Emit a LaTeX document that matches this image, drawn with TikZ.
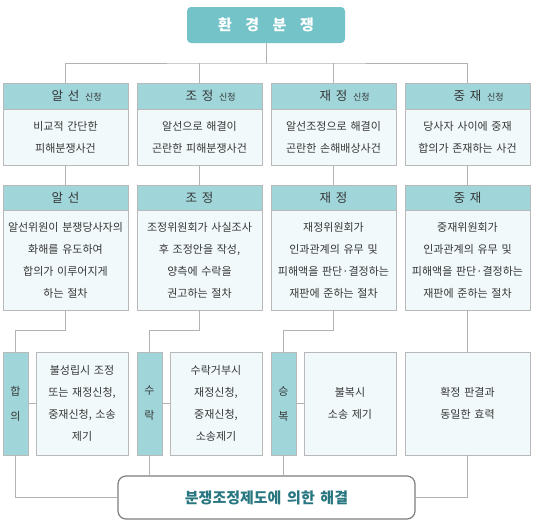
\documentclass[tikz,border=0pt]{standalone}
\usepackage{fontspec}
\setmainfont{Noto Sans CJK KR}
\usetikzlibrary{positioning}
\definecolor{TitleTeal}{RGB}{115,195,200}
\definecolor{HeadTeal}{RGB}{160,214,218}
\definecolor{BodyTint}{RGB}{241,249,250}
\definecolor{BoxLine}{RGB}{185,185,185}
\definecolor{LinkGray}{RGB}{178,178,178}
\definecolor{EndTeal}{RGB}{40,118,128}
\definecolor{EndLine}{RGB}{125,125,125}
\definecolor{InkGray}{RGB}{55,55,55}
\newcommand{\sub}{\rlap{\hspace{0.45em}\fontsize{9}{10}\selectfont 신청}}

\begin{document}
\begin{tikzpicture}[x=1pt, y=-1pt,
 title/.style={fill=TitleTeal, rounded corners=4pt, minimum width=158pt, minimum height=36pt, inner sep=0pt, text=white, font=\fontsize{15}{17}\selectfont\bfseries},
 hd/.style={draw=BoxLine, fill=HeadTeal, minimum width=125pt, minimum height=26pt, inner sep=0pt, outer sep=0pt, text=InkGray, font=\fontsize{12.5}{14}\selectfont},
 bd/.style={draw=BoxLine, fill=BodyTint, text width=125pt, align=center, minimum height=56pt, inner sep=0pt, outer sep=0pt, text=InkGray, font=\fontsize{11}{22}\selectfont},
 tag/.style={draw=BoxLine, fill=HeadTeal, minimum width=25pt, minimum height=103pt, inner sep=0pt, outer sep=0pt, align=center, text=InkGray, font=\fontsize{11}{25}\selectfont},
 note/.style={bd, text width=92pt, minimum height=103pt},
 fin/.style={draw=EndLine, line width=1.2pt, fill=white, rounded corners=8pt, minimum width=297pt, minimum height=43pt, inner sep=0pt, text=EndTeal, font=\fontsize{15}{17}\selectfont\bfseries},
 link/.style={draw=LinkGray, line width=0.8pt},
 node distance=20pt and 9pt
]
\useasboundingbox (0,0) rectangle (538,528);

% 제목
\node[title] (env) at (266,25) {환\hspace{0.9em}경\hspace{0.9em}분\hspace{0.9em}쟁};

% 신청
\node[hd] (ash) at (65.5,96) {알\hspace{0.4em}선\sub};
\node[hd, right=of ash] (jsh) {조\hspace{0.4em}정\sub};
\node[hd, right=of jsh] (jjh) {재\hspace{0.4em}정\sub};
\node[hd, right=of jjh] (jch) {중\hspace{0.4em}재\sub};
\node[bd, below=0pt of ash] (asb) {비교적 간단한\\피해분쟁사건};
\node[bd, below=0pt of jsh] (jsb) {알선으로 해결이\\곤란한 피해분쟁사건};
\node[bd, below=0pt of jjh] (jjb) {알선조정으로 해결이\\곤란한 손해배상사건};
\node[bd, below=0pt of jch] (jcb) {당사자 사이에 중재\\합의가 존재하는 사건};

% 절차
\node[hd, minimum height=25pt, below=of asb] (ah) {알\hspace{0.4em}선};
\node[hd, minimum height=25pt, below=of jsb] (sh) {조\hspace{0.4em}정};
\node[hd, minimum height=25pt, below=of jjb] (rh) {재\hspace{0.4em}정};
\node[hd, minimum height=25pt, below=of jcb] (ch) {중\hspace{0.4em}재};
\node[bd, minimum height=100pt, below=0pt of ah] (ab) {알선위원이 분쟁당사자의\\화해를 유도하여\\합의가 이루어지게\\하는 절차};
\node[bd, minimum height=100pt, below=0pt of sh] (sb) {조정위원회가 사실조사\\후 조정안을 작성,\\양측에 수락을\\권고하는 절차};
\node[bd, minimum height=100pt, below=0pt of rh] (rb) {재정위원회가\\인과관계의 유무 및\\피해액을 판단·결정하는\\재판에 준하는 절차};
\node[bd, minimum height=100pt, below=0pt of ch] (cb) {중재위원회가\\인과관계의 유무 및\\피해액을 판단·결정하는\\재판에 준하는 절차};

% 결과
\node[tag, below right=42pt and 0pt of ab.south west] (hap) {합\\의};
\node[note, right=8pt of hap] (hapn) {불성립시 조정\\또는 재정신청,\\중재신청, 소송\\제기};
\node[tag, below right=42pt and 0pt of sb.south west] (sur) {수\\락};
\node[note, right=8pt of sur] (surn) {수락거부시\\재정신청,\\중재신청,\\소송제기};
\node[tag, below right=42pt and 0pt of rb.south west] (sbk) {승\\복};
\node[note, right=8pt of sbk] (sbkn) {불복시\\소송 제기};
\node[bd, minimum height=103pt, below=42pt of cb] (cfin) {확정 판결과\\동일한 효력};

\node[fin] (end) at (266.5,497.5) {분쟁조정제도에\hspace{0.15em} 의한\hspace{0.15em} 해결};

% 연결선
\coordinate (bus) at (266,63);
\draw[link] (env) -- (bus);
\draw[link] (ash.north) |- (bus) -| (jch.north);
\draw[link] (jsh.north) -- (jsh.north |- bus);
\draw[link] (jjh.north) -- (jjh.north |- bus);
\draw[link] (asb) -- (ah);
\draw[link] (jsb) -- (sh);
\draw[link] (jjb) -- (rh);
\draw[link] (jcb) -- (ch);
\draw[link] (ab.south) -- ++(0,20) -| (hap.north);
\draw[link] (sb.south) -- ++(0,20) -| (sur.north);
\draw[link] (rb.south) -- ++(0,20) -| (sbk.north);
\draw[link] (cb) -- (cfin);
\draw[link] (hap) -- (hapn);
\draw[link] (sur) -- (surn);
\draw[link] (sbk) -- (sbkn);
\draw[link] (hap.south) |- (end.west);
\draw[link] (sur.south) -- (sur.south |- end.north);
\draw[link] (sbk.south) -- (sbk.south |- end.north);
\draw[link] (cfin.south) |- (end.east);
\end{tikzpicture}
\end{document}
